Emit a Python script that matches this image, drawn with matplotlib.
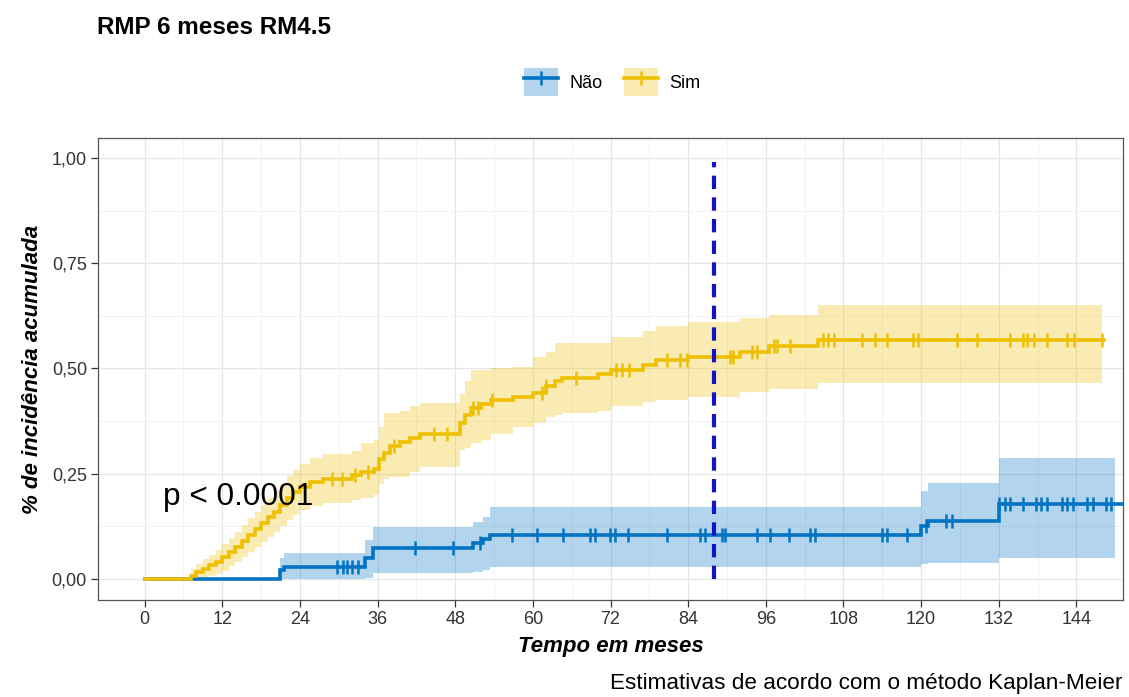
import numpy as np
import matplotlib
matplotlib.use("Agg")
import matplotlib.pyplot as plt
from matplotlib.patches import Patch
from matplotlib.lines import Line2D

plt.rcParams['font.family'] = ['Liberation Sans', 'DejaVu Sans']

# ---------------- data ----------------
title = "RMP 6 meses RM4.5"
groups = ["Não", "Sim"]
colors = ["#0073C2", "#EFC000"]

# Não (blue) step curve
nao_t  = [0, 21.0, 21.6, 34.0, 35.3, 50.8, 52.3, 53.4, 120.0, 121.0, 132.0]
nao_f  = [0, .021, .028, .050, .073, .085, .095, .104, .125, .137, .178]
nao_up = [0, .050, .062, .093, .124, .135, .147, .171, .210, .228, .287]
nao_lo = [0, 0.0, 0.0, .003, .014, .017, .022, .029, .035, .038, .050]
nao_line_end = 152.0
nao_band_end = 149.9
nao_cens = [29.8, 30.6, 31.3, 32.1, 33.0, 41.8, 47.7, 51.9, 56.8, 60.7, 64.7,
            68.8, 69.6, 71.9, 72.7, 74.7, 80.7, 85.8, 86.6, 89.2, 89.7, 94.6,
            96.6, 99.6, 102.8, 103.6, 113.9, 114.7, 117.8, 120.8, 123.9, 124.7,
            132.1, 132.9, 133.7, 135.7, 137.8, 138.6, 139.4, 141.7, 142.6,
            143.4, 145.7, 146.5, 148.6, 149.4]

# Sim (yellow) step curve
sim_t  = [0, 7.2, 8, 9, 10, 11, 12, 13, 14, 15, 16, 17, 18, 19, 20, 21, 22, 23,
          24, 25.5, 27.5, 32, 33.5, 35.5, 36.3, 37, 38, 39.5, 41, 42.5, 48.8,
          49.5, 50.5, 52, 53.5, 57, 60, 62, 63.5, 64.5, 70, 72, 77, 79, 84, 92,
          96.5, 104]
sim_f  = [0, .008, .016, .024, .032, .040, .052, .064, .076, .090, .104, .118,
          .132, .146, .160, .176, .192, .206, .218, .230, .238, .246, .254,
          .262, .285, .300, .315, .326, .336, .345, .370, .390, .405, .415,
          .425, .432, .442, .458, .470, .477, .488, .496, .508, .520, .527,
          .539, .553, .568]
sim_up = [0, .024, .036, .048, .058, .068, .083, .098, .112, .128, .145, .160,
          .176, .192, .208, .226, .244, .260, .273, .287, .296, .305, .323,
          .330, .360, .394, .394, .400, .410, .418, .440, .470, .496, .496,
          .500, .504, .527, .540, .560, .560, .560, .575, .590, .600, .610,
          .620, .627, .651]
sim_lo = [0, 0, 0, .002, .006, .012, .020, .030, .040, .052, .064, .075, .088,
          .100, .112, .126, .140, .152, .163, .173, .180, .187, .193, .200,
          .225, .238, .242, .242, .255, .266, .306, .310, .323, .330, .345,
          .361, .370, .385, .390, .394, .400, .410, .420, .425, .432, .445,
          .452, .466]
sim_line_end = 148.3
sim_band_end = 147.9
sim_cens = [29.0, 30.5, 32.5, 34.5, 38.6, 44.7, 46.8, 50.8, 51.5, 53.7, 61.4,
            62.1, 66.7, 72.8, 73.7, 74.9, 80.7, 82.8, 83.8, 90.4, 90.9, 93.8,
            94.7, 97.3, 97.8, 99.7, 104.8, 105.6, 106.6, 110.8, 112.8, 114.7,
            118.7, 119.5, 125.6, 128.7, 133.7, 135.7, 136.4, 137.5, 139.5,
            142.6, 143.7, 147.9]

x_ticks = [0, 12, 24, 36, 48, 60, 72, 84, 96, 108, 120, 132, 144]
y_ticks = [0, 0.25, 0.5, 0.75, 1.0]
y_ticklabels = ["0,00", "0,25", "0,50", "0,75", "1,00"]
vline_x = 88
pval_text = "p < 0.0001"
xlabel = "Tempo em meses"
ylabel = "% de incidência acumulada"
caption = "Estimativas de acordo com o método Kaplan-Meier"

# ---------------- figure ----------------
W, H = 1129, 697
fig = plt.figure(figsize=(W / 100, H / 100), dpi=100)
ax = fig.add_axes([98 / W, (H - 600) / H, (1123 - 98) / W, (600 - 138) / H])

ax.set_xlim(-7.2, 151.2)
ax.set_ylim(-0.05, 1.0475)

# grid
ax.set_xticks(x_ticks)
ax.set_xticks([6 + 12 * i for i in range(12)], minor=True)
ax.set_yticks(y_ticks)
ax.set_yticks([0.125, 0.375, 0.625, 0.875], minor=True)
ax.grid(which='major', color='#E6E6E6', lw=0.9)
ax.grid(which='minor', color='#F0F0F0', lw=0.6)
ax.set_axisbelow(True)


def draw(t, f, up, lo, line_end, band_end, cens, col):
    t = np.asarray(t, float)
    f = np.asarray(f, float)
    up = np.asarray(up, float)
    lo = np.asarray(lo, float)
    tb = np.append(t, band_end)
    ax.fill_between(tb, np.append(up, up[-1]), np.append(lo, lo[-1]),
                    step='post', color=col, alpha=0.3, lw=0)
    tl = np.append(t, line_end)
    ax.step(tl, np.append(f, f[-1]), where='post', color=col, lw=2.6,
            solid_joinstyle='miter')
    c = np.asarray(cens, float)
    idx = np.searchsorted(t, c, side='right') - 1
    ax.plot(c, f[idx], ls='none', marker='|', ms=10, mew=1.8, color=col)


draw(nao_t, nao_f, nao_up, nao_lo, nao_line_end, nao_band_end, nao_cens, colors[0])
draw(sim_t, sim_f, sim_up, sim_lo, sim_line_end, sim_band_end, sim_cens, colors[1])

# vertical dashed line
ax.plot([vline_x, vline_x], [0, 0.99], color='#1414C0', lw=3.0,
        dashes=(3.2, 2.0), solid_capstyle='butt', dash_capstyle='butt')

# p-value
ax.text(2.9, 0.195, pval_text, fontsize=22.8, ha='left', va='center', color='black')

# axes styling
for s in ax.spines.values():
    s.set_color('#555555')
    s.set_linewidth(0.9)
ax.set_yticklabels(y_ticklabels)
ax.tick_params(which='major', length=5, width=0.9, color='#333333',
               labelsize=13, labelcolor='#333333', pad=3)
ax.tick_params(which='minor', length=0)

ax.set_xlabel(xlabel, fontsize=16, fontweight='bold', style='italic', labelpad=6)
ax.set_ylabel(ylabel, fontsize=16, fontweight='bold', style='italic', labelpad=6)

# title
fig.text(97 / W, 1 - 27 / H, title, fontsize=17.5, fontweight='bold',
         ha='left', va='center')

# caption
fig.text(1122 / W, 1 - 683 / H, caption, fontsize=16.2, ha='right', va='center')

# legend
handles = [(Patch(facecolor=c, alpha=0.3, lw=0),
            Line2D([], [], color=c, lw=2.6, marker='|', ms=10, mew=1.8))
           for c in colors]
fig.legend(handles, groups, loc='center', bbox_to_anchor=(612 / W, 1 - 82 / H),
           ncol=2, frameon=False, fontsize=13, handlelength=1.9,
           handleheight=2.0, columnspacing=1.2, handletextpad=0.6)

fig.savefig("out.png", dpi=100)
